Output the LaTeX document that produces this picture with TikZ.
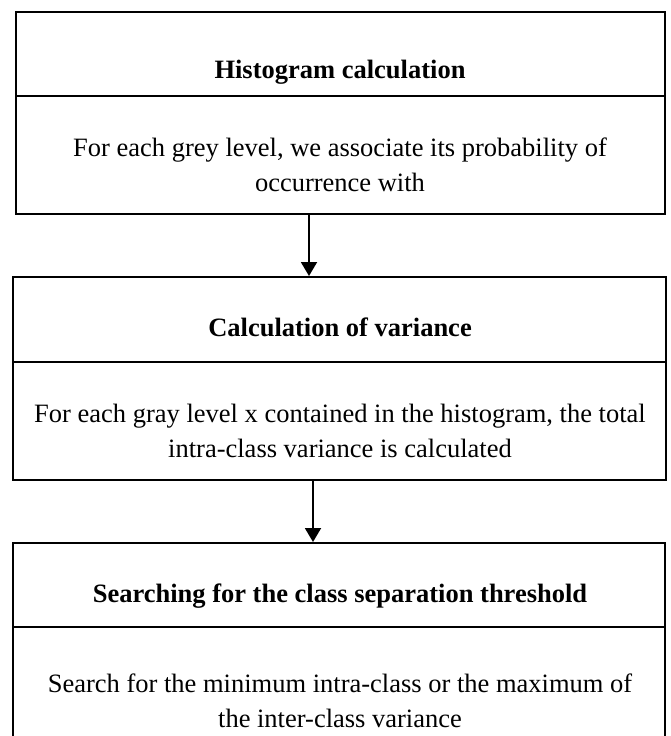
\documentclass[tikz,border=0pt]{standalone}
\usepackage{fontspec}
\setmainfont{Liberation Serif}
\usetikzlibrary{arrows.meta}
\begin{document}
\begin{tikzpicture}[x=1pt,y=-1pt,
  part/.style={draw=black,line width=1.9pt,rectangle,inner sep=0pt,anchor=north west},
  ttl/.style={font=\fontsize{26.5}{36}\selectfont\bfseries,inner sep=0pt},
  txt/.style={font=\fontsize{26.5}{35.5}\selectfont,align=center,inner sep=0pt},
  arr/.style={line width=1.9pt,-{Triangle[width=16pt,length=14pt]}}]
\useasboundingbox (0,0) rectangle (670,736);
% box 1
\node[part,minimum width=649pt,minimum height=84pt] (h1) at (15,11) {};
\node[part,minimum width=649pt,minimum height=118pt] (b1) at (15,95) {};
\node[ttl] (t1) at (340,72) {Histogram calculation};
\node[txt] (x1) at (340,165) {For each grey level, we associate its probability of\\occurrence with};
% box 2
\node[part,minimum width=653pt,minimum height=85pt] (h2) at (12,276) {};
\node[part,minimum width=653pt,minimum height=118pt] (b2) at (12,361) {};
\node[ttl] (t2) at (340,327) {Calculation of variance};
\node[txt] (x2) at (340,431) {For each gray level x contained in the histogram, the total\\intra-class variance is calculated};
% box 3
\node[part,minimum width=652pt,minimum height=84pt] (h3) at (12,542) {};
\node[part,minimum width=652pt,minimum height=116pt] (b3) at (12,626) {};
\node[ttl] (t3) at (340,596) {Searching for the class separation threshold};
\node[txt] (x3) at (340,701) {Search for the minimum intra-class or the maximum of\\the inter-class variance};
% arrows
\coordinate (c1) at (309,0);
\coordinate (c2) at (313,0);
\draw[arr] (b1.south -| c1) -- (h2.north -| c1);
\draw[arr] (b2.south -| c2) -- (h3.north -| c2);
\end{tikzpicture}
\end{document}
